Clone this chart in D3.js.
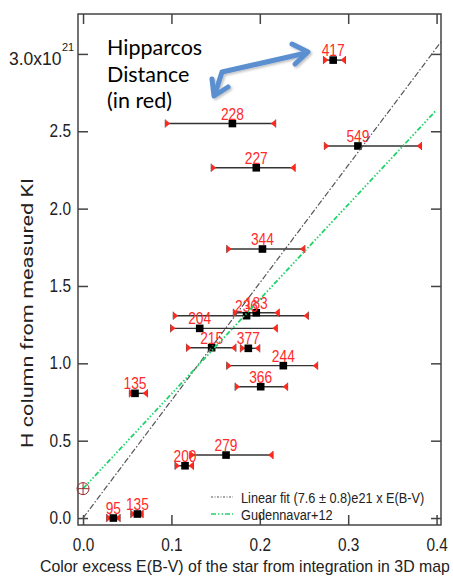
<!DOCTYPE html>
<html lang="en">
<head>
    <meta charset="UTF-8">
    <title>H column vs E(B-V)</title>
    <script src="https://d3js.org/d3.v7.min.js"></script>
    <style>
        body { margin: 0; background: #fff; }
        text { font-family: "Liberation Sans", Arial, sans-serif; }
    </style>
</head>
<body>
    <div id="chart"></div>
    <script>
        // star labels (Hipparcos distance, pc) and measured values
        const starLabels = ["417", "228", "549", "227", "344", "236", "183", "204", "215", "377", "244", "366", "135", "200", "279", "95", "135"]
        const ebv   = [0.283, 0.169, 0.311, 0.196, 0.203, 0.185, 0.196, 0.132, 0.1455, 0.187, 0.2266, 0.201, 0.0588, 0.1154, 0.1618, 0.0343, 0.0615]
        const ebvLo = [0.272, 0.093, 0.273, 0.145, 0.1625, 0.102, 0.170, 0.099, 0.117, 0.178, 0.1625, 0.172, 0.0524, 0.104, 0.121, 0.0267, 0.054]
        const ebvHi = [0.297, 0.218, 0.383, 0.240, 0.251, 0.255, 0.222, 0.2198, 0.173, 0.200, 0.2655, 0.2315, 0.073, 0.125, 0.215, 0.042, 0.068]
        const nH    = [2.96, 2.55, 2.405, 2.264, 1.739, 1.308, 1.327, 1.226, 1.101, 1.097, 0.985, 0.849, 0.806, 0.338, 0.407, 0.0, 0.026]

        // fits (units of 1e21)
        const fitSlope = 7.6, fitIntercept = 0
        const gudSlope = 6.12, gudIntercept = 0.19
        const fitRange = [0, 0.405]
        const gudRange = [0, 0.4]

        const xTicks = [0, 0.1, 0.2, 0.3, 0.4]
        const yTicks = [0, 0.5, 1.0, 1.5, 2.0, 2.5, 3.0]
        const legendLabels = ["Linear fit (7.6 \u00b1 0.8)e21 x E(B-V)", "Gudennavar+12"]

        const width = 453, height = 579
        const frame = {left: 78, right: 441, top: 14, bottom: 525}

        const svg = d3.select("#chart").append("svg")
            .attr("width", width).attr("height", height)
            .attr("viewBox", [0, 0, width, height])

        const x = d3.scaleLinear().domain([-0.0057, 0.405]).range([frame.left, frame.right])
        const y = d3.scaleLinear().domain([-0.045, 3.258]).range([frame.bottom, frame.top])

        // squeeze text horizontally (IDL font is narrow)
        function squeeze(sel, k) {
            sel.each(function () {
                const w = this.getComputedTextLength()
                d3.select(this).attr("textLength", w * k).attr("lengthAdjust", "spacingAndGlyphs")
            })
        }
        // same idea but by transform, for long single texts
        function narrowText(px, py, k, size, str) {
            return svg.append("text")
                .attr("transform", `translate(${px},${py}) scale(${k},1)`)
                .attr("fill", "#222").style("font-size", size + "px").text(str)
        }

        const axisColor = "#444"
        // frame
        svg.append("rect")
            .attr("x", frame.left).attr("y", frame.top)
            .attr("width", frame.right - frame.left).attr("height", frame.bottom - frame.top)
            .attr("fill", "none").attr("stroke", axisColor).attr("stroke-width", 1.5)

        // axes with inward ticks on all sides
        const tickLen = 10
        const axB = svg.append("g").attr("transform", `translate(0,${frame.bottom})`)
            .call(d3.axisBottom(x).tickValues(xTicks).tickSize(-tickLen).tickPadding(14).tickFormat(d3.format(".1f")))
        const axT = svg.append("g").attr("transform", `translate(0,${frame.top})`)
            .call(d3.axisTop(x).tickValues(xTicks).tickSize(-tickLen).tickFormat(""))
        const axL = svg.append("g").attr("transform", `translate(${frame.left},0)`)
            .call(d3.axisLeft(y).tickValues(yTicks).tickSize(-tickLen).tickPadding(7).tickFormat(d => d === 3 ? "" : d3.format(".1f")(d)))
        const axR = svg.append("g").attr("transform", `translate(${frame.right},0)`)
            .call(d3.axisRight(y).tickValues(yTicks).tickSize(-tickLen).tickFormat(""))

        ;[axB, axT, axL, axR].forEach(a => {
            a.select(".domain").remove()
            a.selectAll(".tick line").attr("stroke", axisColor).attr("stroke-width", 1.5)
            a.selectAll("text").attr("fill", "#222").style("font-size", "17.5px")
        })
        axB.selectAll("text").attr("dy", "0.71em")
        squeeze(axB.selectAll("text"), 0.88)
        squeeze(axL.selectAll("text"), 0.88)

        // 3.0x10^21 label
        svg.append("text")
            .attr("x", frame.left - 16.5).attr("y", y(3.0) + 11.5)
            .attr("text-anchor", "end").attr("fill", "#222")
            .style("font-size", "17.5px").text("3.0x10")
        svg.append("text")
            .attr("x", frame.left - 16).attr("y", y(3.0) - 2.5)
            .attr("fill", "#222").style("font-size", "11px").text("21")

        // axis titles
        const xTitle = narrowText(40, 572, 1, 17, "Color excess E(B-V) of the star from integration in 3D map")
        const xw = xTitle.node().getComputedTextLength()
        xTitle.attr("transform", `translate(40,572) scale(${410 / xw},1)`)

        svg.append("text")
            .attr("transform", "translate(33,313) rotate(-90)")
            .attr("text-anchor", "middle")
            .attr("fill", "#222").style("font-family", "Roboto, 'Open Sans', sans-serif").style("font-size", "17px")
            .attr("textLength", 270).attr("lengthAdjust", "spacingAndGlyphs")
            .text("H column from measured KI")

        // data points
        const stars = starLabels.map((s, i) => ({label: s, x: ebv[i], lo: ebvLo[i], hi: ebvHi[i], y: nH[i]}))

        const gStars = svg.append("g")
        gStars.selectAll("line.err").data(stars).join("line")
            .attr("class", "err")
            .attr("x1", d => x(d.lo)).attr("x2", d => x(d.hi))
            .attr("y1", d => y(d.y)).attr("y2", d => y(d.y))
            .attr("stroke", "#333").attr("stroke-width", 1.4)

        // error bar ends: thin black tick + red triangle pointing inward
        const ends = stars.flatMap(d => [{x: d.lo, y: d.y, dir: 1}, {x: d.hi, y: d.y, dir: -1}])
        gStars.selectAll("line.cap").data(ends).join("line")
            .attr("class", "cap")
            .attr("x1", d => x(d.x)).attr("x2", d => x(d.x))
            .attr("y1", d => y(d.y) - 4).attr("y2", d => y(d.y) + 4)
            .attr("stroke", "#333").attr("stroke-width", 0.8)
        gStars.selectAll("path.cap").data(ends).join("path")
            .attr("class", "cap")
            .attr("d", d => {
                const px = x(d.x), py = y(d.y)
                return `M${px},${py - 4}L${px + d.dir * 5},${py}L${px},${py + 4}Z`
            })
            .attr("fill", "#ff2a1f")

        gStars.selectAll("rect").data(stars).join("rect")
            .attr("x", d => x(d.x) - 3.8).attr("y", d => y(d.y) - 3.8)
            .attr("width", 7.6).attr("height", 7.6)
            .attr("fill", "#000")

        const starText = gStars.selectAll("text").data(stars).join("text")
            .attr("x", d => x(d.x)).attr("y", d => y(d.y) - 4)
            .attr("text-anchor", "middle")
            .attr("fill", "#ff2a2a").style("font-size", "16px")
            .text(d => d.label)
        squeeze(starText, 0.86)

        // fit lines
        const line = d3.line().x(d => x(d[0])).y(d => y(d[1]))
        svg.append("path")
            .attr("d", line(fitRange.map(v => [v, fitIntercept + fitSlope * v])))
            .attr("fill", "none").attr("stroke", "#555").attr("stroke-width", 1.2)
            .attr("stroke-dasharray", "6,2,1.5,2")
        svg.append("path")
            .attr("d", line(gudRange.map(v => [v, gudIntercept + gudSlope * v])))
            .attr("fill", "none").attr("stroke", "#1fd36a").attr("stroke-width", 1.8)
            .attr("stroke-dasharray", "5,2,1.5,2,1.5,2,1.5,2")

        // Gudennavar intercept marker
        const cx = x(0), cy = y(gudIntercept)
        svg.append("circle").attr("cx", cx).attr("cy", cy).attr("r", 6)
            .attr("fill", "none").attr("stroke", "#9a3030").attr("stroke-width", 1)
        svg.append("path").attr("d", `M${cx - 6},${cy}H${cx + 6}M${cx},${cy - 6}V${cy + 6}`)
            .attr("stroke", "#9a3030").attr("stroke-width", 1)

        // legend
        const legStyles = [{c: "#555", dash: "2,1.5,1,1.5", w: 1}, {c: "#1fd36a", dash: "5,2,1.5,2,1.5,2", w: 1.6}]
        legendLabels.forEach((t, i) => {
            const ly = 497 + i * 17
            svg.append("line").attr("x1", 211).attr("x2", 233).attr("y1", ly).attr("y2", ly)
                .attr("stroke", legStyles[i].c).attr("stroke-width", legStyles[i].w)
                .attr("stroke-dasharray", legStyles[i].dash)
            narrowText(241, ly + 5.5, 0.85, 15, t)
        })

        // annotation
        const note = svg.append("text").attr("x", 107).attr("y", 55)
            .attr("fill", "#000").style("font-family", "Lato, 'Open Sans', sans-serif").style("font-size", "21.5px")
        ;["Hipparcos", "Distance", "(in red)"].forEach((t, i) => {
            note.append("tspan").attr("x", 107).attr("dy", i ? 26.5 : 0).text(t)
        })

        const defs = svg.append("defs")
        defs.append("filter").attr("id", "shadow").attr("x", "-20%").attr("y", "-20%").attr("width", "140%").attr("height", "140%")
            .append("feDropShadow").attr("dx", 1.5).attr("dy", 1.5).attr("stdDeviation", 1.2)
            .attr("flood-color", "#000").attr("flood-opacity", 0.25)
        const arrow = svg.append("g").attr("filter", "url(#shadow)")
            .attr("fill", "none").attr("stroke", "#5b8fd0").attr("stroke-width", 5)
            .attr("stroke-linecap", "round").attr("stroke-linejoin", "round")
        arrow.append("path").attr("d", "M306,53 L222,72 L215,94")
        arrow.append("path").attr("d", "M292,44 L308,52 L295,64")
        arrow.append("path").attr("d", "M212,79 L214,96 L228,87")
    </script>
</body>
</html>
